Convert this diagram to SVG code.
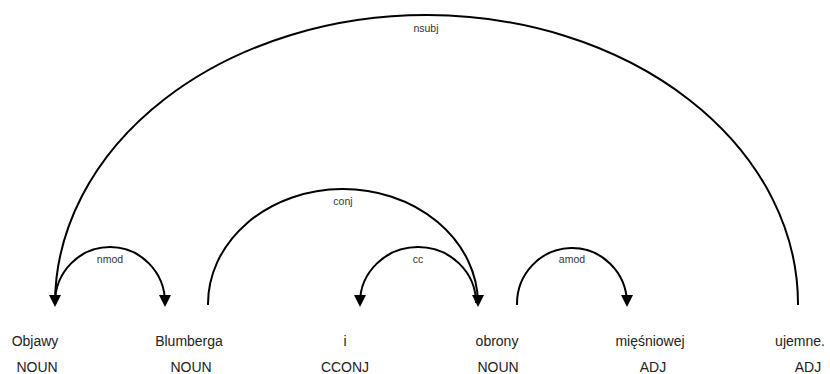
<svg xmlns="http://www.w3.org/2000/svg" width="830" height="374" viewBox="0 0 830 374">
<style>
.arc{fill:none;stroke:#000;stroke-width:2}
.head{fill:#000}
.lbl{font-family:"Liberation Sans",Arial,sans-serif;font-size:10.5px;fill:#333;text-anchor:middle}
.word{font-family:"Liberation Sans",Arial,sans-serif;font-size:14px;fill:#222;text-anchor:middle}
</style>
<rect width="830" height="374" fill="#fff"/>
<g id="connectors">
  <g id="arc-nsubj">
    <path class="arc" d="M798,305 A371.5,289 0 0 0 55,303"/>
    <polygon class="head" points="49,295 61,295 55,307"/>
    <text class="lbl" x="426" y="32">nsubj</text>
  </g>
  <g id="arc-nmod">
    <path class="arc" d="M55,303 A55,56 0 0 1 165,303"/>
    <polygon class="head" points="159,295 171,295 165,307"/>
    <text class="lbl" x="110" y="263">nmod</text>
  </g>
  <g id="arc-conj">
    <path class="arc" d="M208,305 A135,115 0 0 1 478,303"/>
    <polygon class="head" points="472,295 484,295 478,307"/>
    <text class="lbl" x="343" y="205">conj</text>
  </g>
  <g id="arc-cc">
    <path class="arc" d="M476,303 A58,56 0 0 0 360,303"/>
    <polygon class="head" points="354,295 366,295 360,307"/>
    <text class="lbl" x="418" y="263">cc</text>
  </g>
  <g id="arc-amod">
    <path class="arc" d="M517,305 A55,56 0 0 1 627,303"/>
    <polygon class="head" points="621,295 633,295 627,307"/>
    <text class="lbl" x="572" y="263">amod</text>
  </g>
</g>
<g id="w0"><text class="word" x="35" y="346">Objawy</text><text class="word" x="37" y="372">NOUN</text></g>
<g id="w1"><text class="word" x="189" y="346">Blumberga</text><text class="word" x="191" y="372">NOUN</text></g>
<g id="w2"><text class="word" x="345" y="346">i</text><text class="word" x="345" y="372">CCONJ</text></g>
<g id="w3"><text class="word" x="497" y="346">obrony</text><text class="word" x="498" y="372">NOUN</text></g>
<g id="w4"><text class="word" x="650" y="346">mięśniowej</text><text class="word" x="653" y="372">ADJ</text></g>
<g id="w5"><text class="word" x="800" y="346">ujemne.</text><text class="word" x="808" y="372">ADJ</text></g>
</svg>
